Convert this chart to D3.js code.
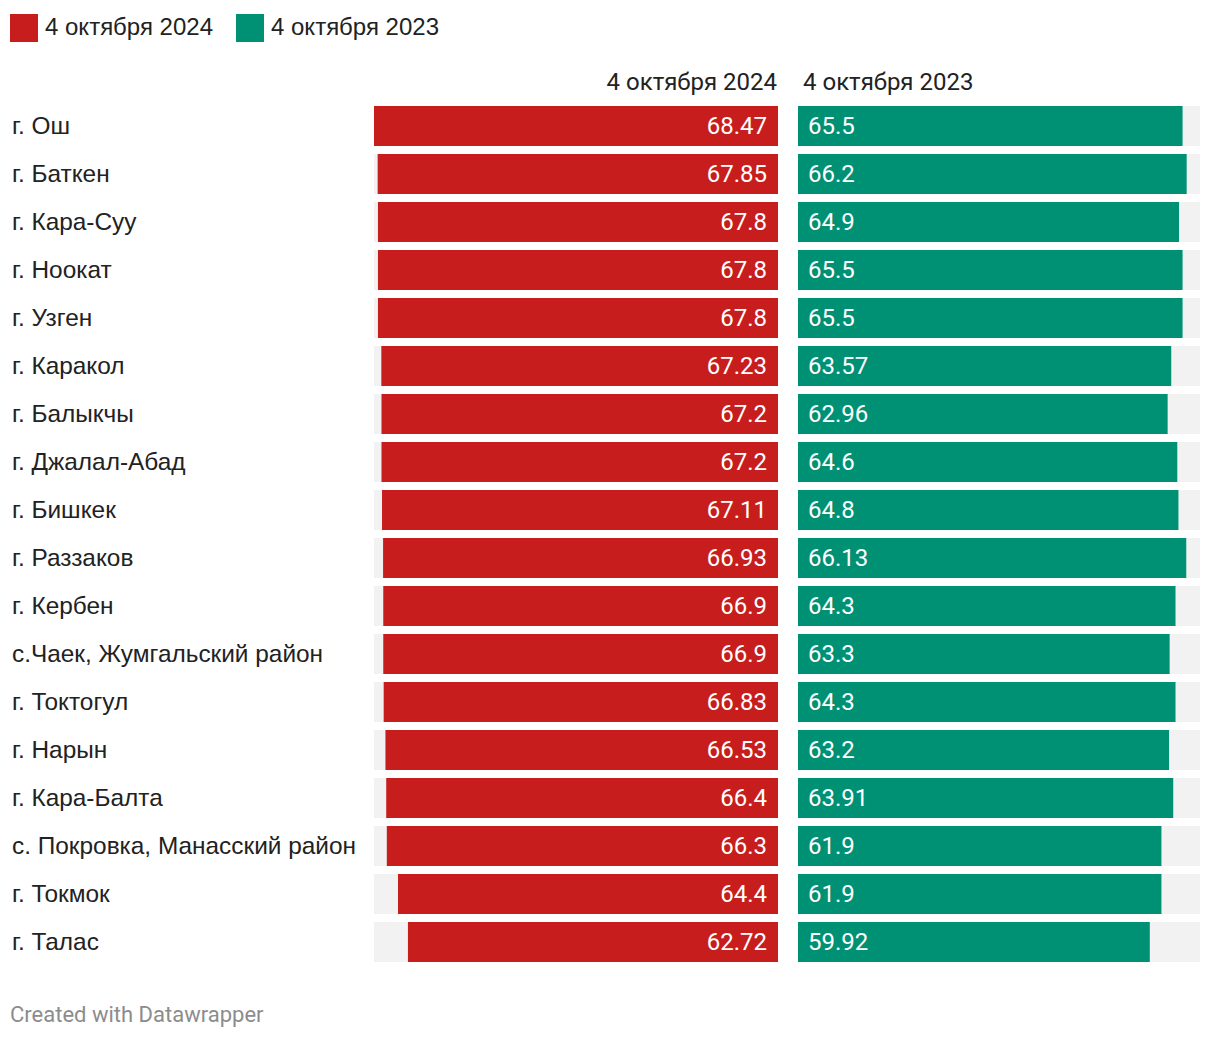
<!DOCTYPE html>
<html>
<head>
<meta charset="utf-8">
<script src="https://cdn.jsdelivr.net/npm/d3@7"></script>
<style>
  html, body { margin: 0; padding: 0; background: #fff; }
  svg { display: block; }
</style>
</head>
<body>
<svg id="chart" width="1220" height="1040"></svg>
<script>
const categories = ["г. Ош","г. Баткен","г. Кара-Суу","г. Ноокат","г. Узген","г. Каракол","г. Балыкчы","г. Джалал-Абад","г. Бишкек","г. Раззаков","г. Кербен","с.Чаек, Жумгальский район","г. Токтогул","г. Нарын","г. Кара-Балта","с. Покровка, Манасский район","г. Токмок","г. Талас"];
const values2024 = [68.47,67.85,67.8,67.8,67.8,67.23,67.2,67.2,67.11,66.93,66.9,66.9,66.83,66.53,66.4,66.3,64.4,62.72];
const values2023 = [65.5,66.2,64.9,65.5,65.5,63.57,62.96,64.6,64.8,66.13,64.3,63.3,64.3,63.2,63.91,61.9,61.9,59.92];
const seriesNames = ["4 октября 2024","4 октября 2023"];
const colors = ["#c71e1d","#009174"];

const svg = d3.select("#chart");
const maxV = d3.max(values2024.concat(values2023));

const y = d3.scaleBand().domain(categories).range([106, 962]).paddingInner(1/6).paddingOuter(0);
const xL = d3.scaleLinear().domain([0, maxV]).range([0, 404]);
const xR = d3.scaleLinear().domain([0, maxV]).range([0, 402]);
const leftEnd = 778, rightStart = 798;

// legend
const lg = svg.append("g");
const legendX = [10, 236];
seriesNames.forEach((n, i) => {
  lg.append("rect").attr("x", legendX[i]).attr("y", 14).attr("width", 28).attr("height", 28).attr("fill", colors[i]);
  lg.append("text").attr("x", legendX[i] + 35).attr("y", 35)
    .attr("font-family", "Liberation Sans, Arial, sans-serif").attr("font-size", 24).attr("fill", "#222").text(n);
});

// column headers
svg.append("text").attr("x", leftEnd - 1).attr("y", 90).attr("text-anchor", "end")
  .attr("font-family", "Roboto, sans-serif").attr("font-size", 24).attr("fill", "#222").text(seriesNames[0]);
svg.append("text").attr("x", rightStart + 5).attr("y", 90)
  .attr("font-family", "Roboto, sans-serif").attr("font-size", 24).attr("fill", "#222").text(seriesNames[1]);

const rows = svg.append("g").selectAll("g").data(categories).join("g");

rows.append("text").attr("x", 12).attr("y", d => y(d) + y.bandwidth()/2 + 7.5)
  .attr("font-family", "Liberation Sans, Arial, sans-serif").attr("font-size", 24.4).attr("fill", "#222").text(d => d);

// backgrounds
rows.append("rect").attr("x", leftEnd - xL(maxV)).attr("y", d => y(d)).attr("width", xL(maxV)).attr("height", y.bandwidth()).attr("fill", "#f2f2f2");
rows.append("rect").attr("x", rightStart).attr("y", d => y(d)).attr("width", xR(maxV)).attr("height", y.bandwidth()).attr("fill", "#f2f2f2");

// bars
rows.append("rect").attr("x", (d, i) => leftEnd - xL(values2024[i])).attr("y", d => y(d))
  .attr("width", (d, i) => xL(values2024[i])).attr("height", y.bandwidth()).attr("fill", colors[0]);
rows.append("rect").attr("x", rightStart).attr("y", d => y(d))
  .attr("width", (d, i) => xR(values2023[i])).attr("height", y.bandwidth()).attr("fill", colors[1]);

// values
rows.append("text").attr("x", leftEnd - 11).attr("y", d => y(d) + y.bandwidth()/2 + 8)
  .attr("text-anchor", "end")
  .attr("font-family", "Roboto, sans-serif").attr("font-size", 24).attr("fill", "#fff").text((d, i) => values2024[i]);
rows.append("text").attr("x", rightStart + 10).attr("y", d => y(d) + y.bandwidth()/2 + 8)
  .attr("font-family", "Roboto, sans-serif").attr("font-size", 24).attr("fill", "#fff").text((d, i) => values2023[i]);

// footer
svg.append("text").attr("x", 10).attr("y", 1022).attr("font-family", "Roboto, sans-serif")
  .attr("font-size", 22).attr("fill", "#8c8c8c").text("Created with Datawrapper");
</script>
</body>
</html>
